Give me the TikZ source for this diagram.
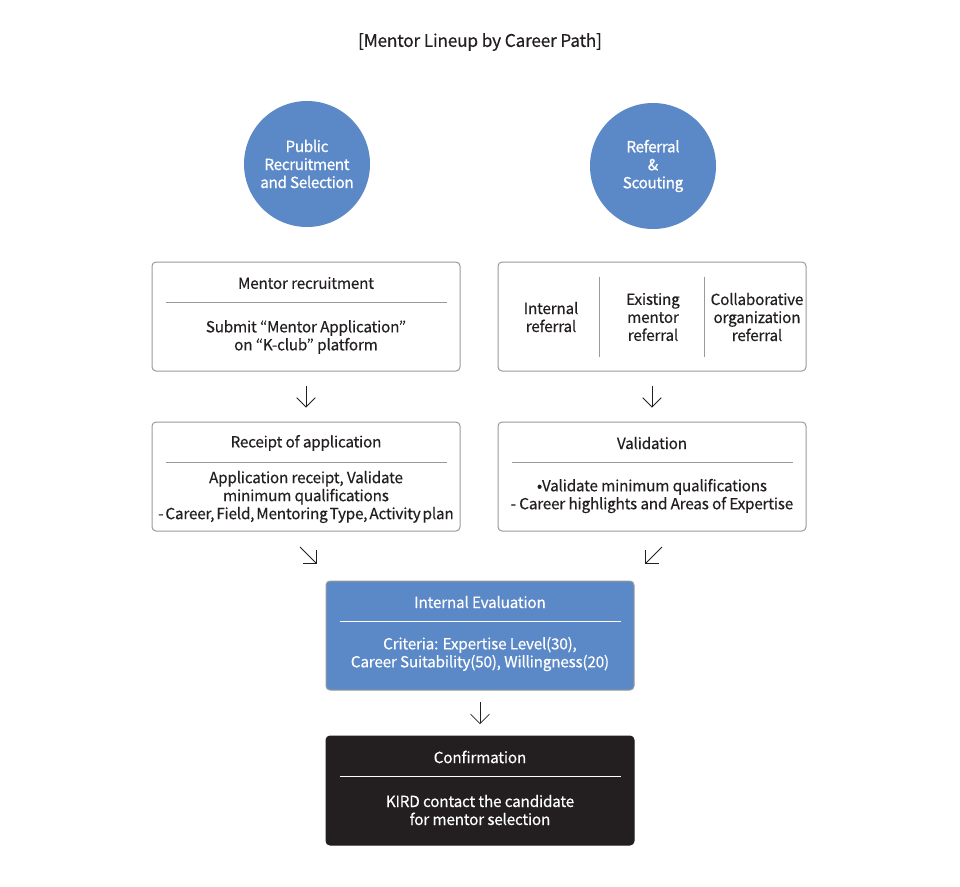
\documentclass[tikz,border=0pt]{standalone}
\usepackage{fontspec}
\setmainfont{Noto Sans CJK KR}[LetterSpace=-1.5, FakeBold=0.35]
\newfontfamily\heavyfont{Noto Sans CJK KR}[LetterSpace=-2.5, FakeBold=0.9]
\usetikzlibrary{arrows.meta,calc}
\definecolor{kblue}{HTML}{5B88C6}
\definecolor{kdark}{HTML}{231F20}
\definecolor{kgray}{HTML}{9A9A9A}
\tikzset{
  path box/.style={draw=kgray, line width=0.75pt, rounded corners=3pt, minimum width=231pt, minimum height=81.75pt, fill=white},
  blue box/.style={path box, fill=kblue, draw=kgray},
  dark box/.style={path box, fill=kdark, draw=kdark},
  route/.style={circle, fill=kblue, minimum size=94.5pt, text=white, align=center, font=\heavyfont\fontsize{11.5}{13.5}\selectfont},
  txt/.style={align=center, font=\fontsize{11.5}{13.5}\selectfont, text=kdark, inner sep=0pt},
  wtxt/.style={txt, text=white},
  sep/.style={draw=kgray, line width=0.6pt},
  wsep/.style={draw=white, line width=0.6pt},
  flow/.style={draw=kdark, line width=0.6pt, -{Straight Barb[length=7pt,width=14pt,line width=0.6pt]}},
}
\begin{document}
\begin{tikzpicture}[x=0.75pt, y=-0.75pt]
  \useasboundingbox (0,0) rectangle (960,886);
  \node[txt, font=\fontsize{13}{14}\selectfont] (title) at (480,42) {[Mentor Lineup by Career Path]};
  % the two routes
  \node[route] (public) at (307,164) {Public\\Recruitment\\and Selection};
  \node[route] (referral) at (653,166) {Referral\\\&\\Scouting};
  % left column
  \node[path box] (recruit) at (306,316.5) {};
  \node[txt] (recruitT) at (306,283) {Mentor recruitment};
  \draw[sep] ($(recruit.north west)+(14,41)$) -- ($(recruit.north east)+(-14,41)$);
  \node[txt] (recruitB) at (306,337) {Submit “Mentor Application”\\on “K-club” platform};
  \node[path box] (receipt) at (306,476.5) {};
  \node[txt] (receiptT) at (306,443) {Receipt of application};
  \draw[sep] ($(receipt.north west)+(14,41)$) -- ($(receipt.north east)+(-14,41)$);
  \node[txt] (receiptB) at (306,497) {Application receipt, Validate\\minimum qualifications\\{\spaceskip=0.12em\relax- Career, Field, Mentoring Type, Activity plan}};
  % right column
  \node[path box] (scout) at (652,316.5) {};
  \node[txt] (internal) at (551,317) {Internal\\referral};
  \node[txt] (existing) at (653,317) {Existing\\mentor\\referral};
  \node[txt] (collab) at (757,317) {Collaborative\\organization\\referral};
  \draw[sep] ($(scout.north west)+(102,15)$) -- ($(scout.south west)+(102,-15)$);
  \draw[sep] ($(scout.north west)+(207,15)$) -- ($(scout.south west)+(207,-15)$);
  \node[path box] (valid) at (652,476.5) {};
  \node[txt] (validT) at (652,443) {Validation};
  \draw[sep] ($(valid.north west)+(14,41)$) -- ($(valid.north east)+(-14,41)$);
  \node[txt] (validB) at (652,496) {•Validate minimum qualifications\\- Career highlights and Areas of Expertise};
  % evaluation
  \node[blue box] (eval) at (480,635.5) {};
  \node[wtxt] (evalT) at (480,602) {Internal Evaluation};
  \draw[wsep] ($(eval.north west)+(14,41)$) -- ($(eval.north east)+(-14,41)$);
  \node[wtxt] (evalB) at (480,654) {Criteria: Expertise Level(30),\\Career Suitability(50), Willingness(20)};
  % confirmation
  \node[dark box] (confirm) at (480,790.5) {};
  \node[wtxt] (confirmT) at (480,757) {Confirmation};
  \draw[wsep] ($(confirm.north west)+(14,41)$) -- ($(confirm.north east)+(-14,41)$);
  \node[wtxt] (confirmB) at (480,810) {KIRD contact the candidate\\for mentor selection};
  % arrows
  \draw[flow, shorten <=10.5pt, shorten >=10.5pt] (recruit.south) -- (receipt.north);
  \draw[flow, shorten <=10.5pt, shorten >=10.5pt] (scout.south) -- (valid.north);
  \draw[flow, shorten <=8.5pt, shorten >=8.5pt] (eval.south) -- (confirm.north);
  \coordinate (leftA) at (300,547);
  \coordinate (leftB) at (317,564);
  \coordinate (rightA) at (662,547);
  \coordinate (rightB) at (645,564);
  \draw[flow] (leftA) -- (leftB);
  \draw[flow] (rightA) -- (rightB);
\end{tikzpicture}
\end{document}
